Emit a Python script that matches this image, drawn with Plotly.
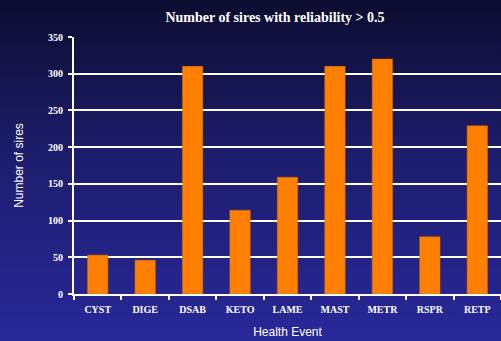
import plotly.graph_objects as go
import base64

categories = ["CYST", "DIGE", "DSAB", "KETO", "LAME", "MAST", "METR", "RSPR", "RETP"]
sires = [53, 46, 310, 114, 159, 310, 320, 78, 229]
y_ticks = [0, 50, 100, 150, 200, 250, 300, 350]

W, H = 501, 341
ML, MR, MT, MB = 74, 0, 37, 47
PW, PH = W - ML - MR, H - MT - MB

svg = (
    '<svg xmlns="http://www.w3.org/2000/svg" width="501" height="341" preserveAspectRatio="none">'
    '<defs><linearGradient id="g" x1="0" y1="0" x2="0" y2="1">'
    '<stop offset="0" stop-color="#0c0c30"/>'
    '<stop offset="0.45" stop-color="#1d1d6c"/>'
    '<stop offset="1" stop-color="#28289a"/>'
    '</linearGradient></defs>'
    '<rect width="501" height="341" fill="url(#g)"/></svg>'
)
src = "data:image/svg+xml;base64," + base64.b64encode(svg.encode()).decode()

fig = go.Figure(
    go.Bar(
        x=categories,
        y=sires,
        marker=dict(color="#ff8000", line=dict(color="#d86a00", width=0.5)),
    )
)

fig.update_layout(
    width=W,
    height=H,
    margin=dict(l=ML, r=MR, t=MT, b=MB),
    paper_bgcolor="#1d1d6c",
    plot_bgcolor="rgba(0,0,0,0)",
    bargap=0.57,
    showlegend=False,
    title=dict(
        text="<b>Number of sires with reliability &gt; 0.5</b>",
        x=275 / W,
        xref="container",
        xanchor="center",
        y=1 - 17 / H,
        yanchor="middle",
        font=dict(family="Liberation Serif", size=14, color="white"),
    ),
    images=[
        dict(
            source=src,
            xref="paper",
            yref="paper",
            x=-ML / PW,
            y=1 + MT / PH,
            sizex=W / PW,
            sizey=H / PH,
            xanchor="left",
            yanchor="top",
            sizing="stretch",
            layer="below",
        )
    ],
)

fig.update_xaxes(
    title=dict(text="Health Event", font=dict(family="Liberation Sans", size=12, color="white"), standoff=14),
    tickfont=dict(family="Liberation Serif", size=10, color="white", weight="bold"),
    ticklabelstandoff=5,
    showline=True,
    linecolor="white",
    linewidth=2,
    ticks="outside",
    tickson="boundaries",
    tickcolor="white",
    tickwidth=2,
    ticklen=4,
    showgrid=False,
)

fig.update_yaxes(
    title=dict(text="Number of sires", font=dict(family="Liberation Sans", size=12, color="white"), standoff=22),
    range=[0, 350],
    tickvals=y_ticks,
    tickfont=dict(family="Liberation Serif", size=10, color="white", weight="bold"),
    ticklabelstandoff=3,
    showline=True,
    linecolor="white",
    linewidth=2,
    ticks="outside",
    tickcolor="white",
    tickwidth=2,
    ticklen=4,
    showgrid=True,
    gridcolor="white",
    gridwidth=2,
    zeroline=False,
)

fig.write_html("out.html")
